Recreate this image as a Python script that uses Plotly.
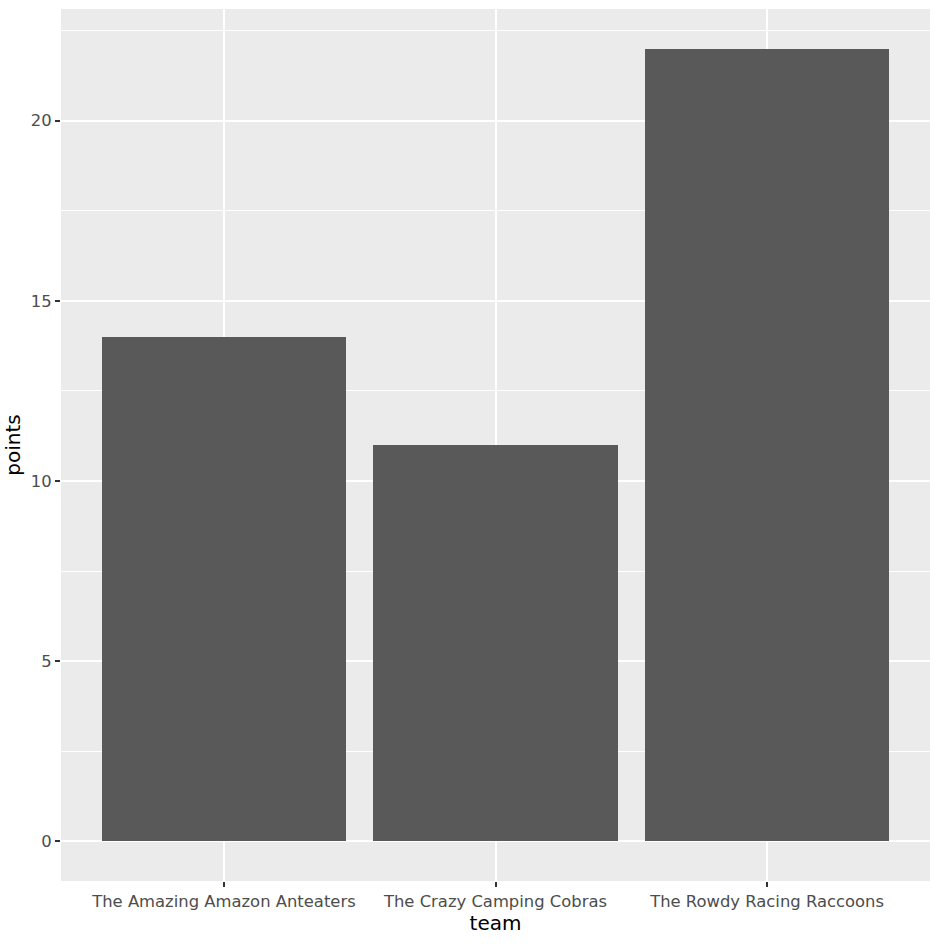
import plotly.graph_objects as go

teams = ["The Amazing Amazon Anteaters", "The Crazy Camping Cobras", "The Rowdy Racing Raccoons"]
points = [14, 11, 22]

fig = go.Figure()
fig.add_trace(go.Bar(
    x=list(range(len(teams))), y=points, width=0.9,
    marker=dict(color="#595959", line=dict(width=0)),
))

font = "DejaVu Sans, sans-serif"
fig.update_layout(
    width=942, height=944,
    margin=dict(l=61, r=12, t=9, b=63),
    paper_bgcolor="white", plot_bgcolor="#EBEBEB",
    showlegend=False,
    font=dict(family=font, color="#4D4D4D", size=16),
    bargap=0,
)
fig.update_xaxes(
    range=[-0.6, 2.6], tickmode="array", tickvals=list(range(len(teams))), ticktext=teams,
    showgrid=True, gridcolor="white", gridwidth=1.6, zeroline=False,
    ticks="outside", ticklen=5, tickwidth=1.6, tickcolor="#333333",
    tickfont=dict(size=16.4, color="#4D4D4D", family=font),
    title=dict(text="team", font=dict(size=20, color="black", family=font), standoff=3),
    fixedrange=True,
)
fig.update_yaxes(
    range=[-1.1, 23.1], tickmode="array", tickvals=[0, 5, 10, 15, 20],
    showgrid=True, gridcolor="white", gridwidth=1.6, zeroline=False,
    minor=dict(tickmode="array", tickvals=[2.5, 7.5, 12.5, 17.5, 22.5], showgrid=True, gridcolor="white", gridwidth=0.8, ticks=""),
    ticks="outside", ticklen=5, tickwidth=1.6, tickcolor="#333333",
    tickfont=dict(size=16.4, color="#4D4D4D", family=font),
    title=dict(text="points", font=dict(size=20, color="black", family=font), standoff=4),
    fixedrange=True,
)
fig.write_html("out.html")
